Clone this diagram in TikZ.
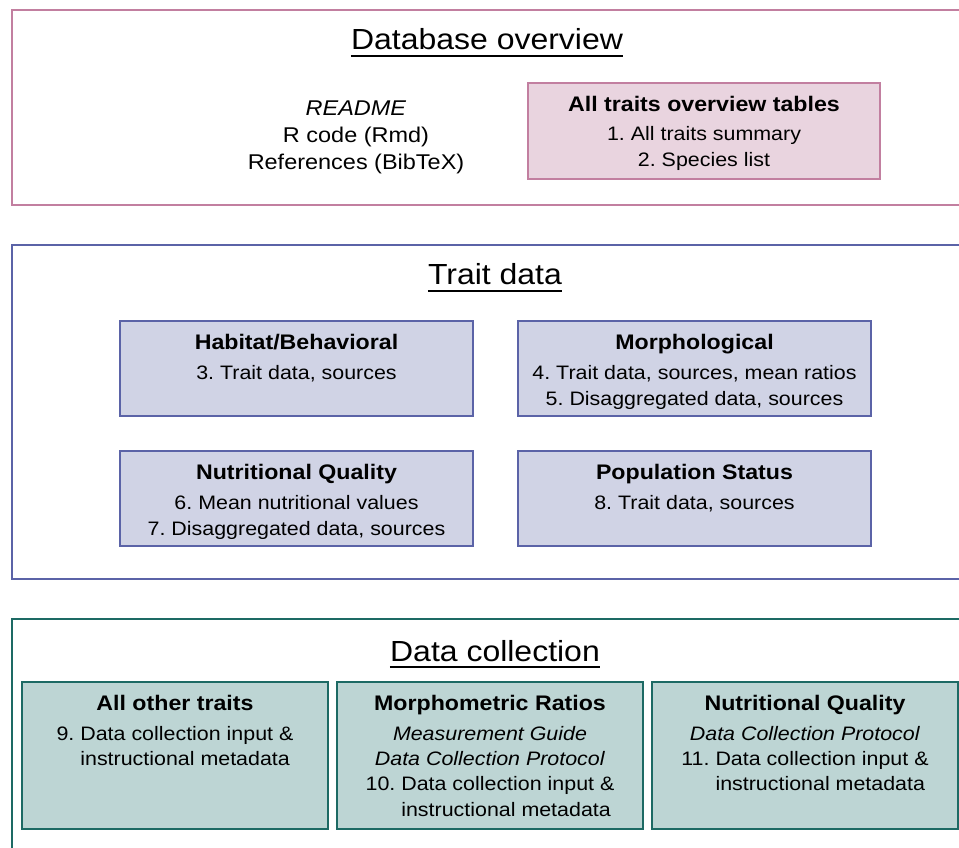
\documentclass[tikz,border=0pt]{standalone}
\usepackage{fontspec}
\setmainfont[FakeStretch=1.1]{Liberation Sans}
\usetikzlibrary{positioning}

\definecolor{overline}{HTML}{C27FA0}
\definecolor{overfill}{HTML}{E9D4DF}
\definecolor{traitline}{HTML}{5B63A7}
\definecolor{traitfill}{HTML}{D0D3E5}
\definecolor{collline}{HTML}{1D6A64}
\definecolor{collfill}{HTML}{BDD5D4}

\frenchspacing

\begin{document}
\begin{tikzpicture}[
		x=0.75pt, y=-0.75pt,
		node distance=26.25pt and 33.75pt,
		panel/.style={draw=#1, line width=1.6pt, anchor=north west, minimum width=730pt, inner sep=0pt},
		paneltitle/.style={anchor=base, inner sep=0pt, font=\fontsize{21.8}{25}\selectfont},
		box/.style={draw=#1line, fill=#1fill, line width=1.5pt, inner sep=0pt, outer sep=0pt},
		boxtext/.style={anchor=north, inner sep=0pt, align=center, font=\fontsize{14.6}{19.5}\selectfont},
		traitbox/.style={box=trait, minimum width=264.75pt, minimum height=71.25pt},
		collbox/.style={box=coll, minimum width=229.5pt, minimum height=110.25pt}
	]
	\useasboundingbox (0,0) rectangle (959,848);
	\clip (0,0) rectangle (959,848);
	
		% Panels
		\node[panel=overline, minimum height=146.25pt] (overview) at (11,9) {};
		\node[panel=traitline, minimum height=250.5pt] (traits) at (11,244) {};
		\node[panel=collline, minimum height=200pt] (collection) at (11,618) {};
		
		% Panel titles
		\node[paneltitle] (overviewtitle) at (487,50) {Database overview};
		\node[paneltitle] (traitstitle) at (495,285) {Trait data};
		\node[paneltitle] (collectiontitle) at (495,661) {Data collection};
		\foreach \t in {overviewtitle, traitstitle, collectiontitle}
			\draw[line width=1.4pt] ([yshift=-4.5pt]\t.base west) -- ([yshift=-4.5pt]\t.base east);
		
		% Database overview
		\node[boxtext, font=\fontsize{16}{20.25}\selectfont] (files) at (356,101) {\textit{README}\\R code (Rmd)\\References (BibTeX)};
		\node[box=over, minimum width=264pt, minimum height=72pt] (tables) at (704,131) {};
		\node[boxtext] at ([yshift=-9.5pt]tables.north) {\textbf{\fontsize{15.8}{19.5}\selectfont All traits overview tables}\\[2.5pt]1. All traits summary\\2. Species list};
		
		% Trait data
		\node[traitbox] (habitat) at (296.5,368.5) {};
		\node[traitbox, right=of habitat] (morpho) {};
		\node[traitbox, below=of habitat] (nutrition) {};
		\node[traitbox, right=of nutrition] (population) {};
		\node[boxtext] at ([yshift=-10pt]habitat.north) {\textbf{\fontsize{15.8}{19.5}\selectfont Habitat/Behavioral}\\[3pt]3. Trait data, sources};
		\node[boxtext] at ([yshift=-10pt]morpho.north) {\textbf{\fontsize{15.8}{19.5}\selectfont Morphological}\\[3pt]4. Trait data, sources, mean ratios\\5. Disaggregated data, sources};
		\node[boxtext] at ([yshift=-9.5pt]nutrition.north) {\textbf{\fontsize{15.8}{19.5}\selectfont Nutritional Quality}\\[3pt]6. Mean nutritional values\\7. Disaggregated data, sources};
		\node[boxtext] at ([yshift=-9.5pt]population.north) {\textbf{\fontsize{15.8}{19.5}\selectfont Population Status}\\[3pt]8. Trait data, sources};
		
		% Data collection
		\node[collbox] (othertraits) at (175,755.5) {};
		\node[collbox, right=6.75pt of othertraits] (ratios) {};
		\node[collbox, right=6.75pt of ratios] (nutriprotocol) {};
		\node[boxtext, font=\fontsize{14.6}{19}\selectfont] at ([yshift=-10pt]othertraits.north) {\textbf{\fontsize{15.8}{19}\selectfont All other traits}\\[3pt]%
			\begin{tabular}[t]{@{}l@{ }l@{}}9. & Data collection input \&\\ & instructional metadata\end{tabular}};
		\node[boxtext, font=\fontsize{14.6}{19}\selectfont] at ([yshift=-10pt]ratios.north) {\textbf{\fontsize{15.8}{19}\selectfont Morphometric Ratios}\\[3pt]\textit{Measurement Guide}\\\textit{Data Collection Protocol}\\%
			\begin{tabular}[t]{@{}l@{ }l@{}}10. & Data collection input \&\\ & instructional metadata\end{tabular}};
		\node[boxtext, font=\fontsize{14.6}{19}\selectfont] at ([yshift=-10pt]nutriprotocol.north) {\textbf{\fontsize{15.8}{19}\selectfont Nutritional Quality}\\[3pt]\textit{Data Collection Protocol}\\%
			\begin{tabular}[t]{@{}l@{ }l@{}}11. & Data collection input \&\\ & instructional metadata\end{tabular}};
		
	\end{tikzpicture}
\end{document}
